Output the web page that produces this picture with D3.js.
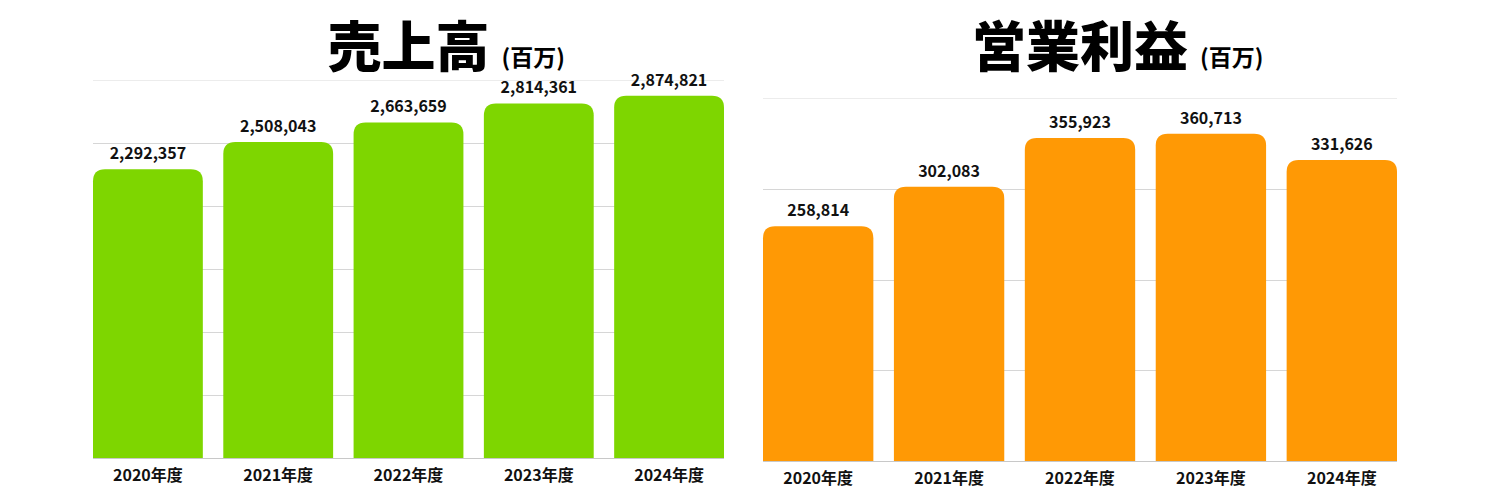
<!DOCTYPE html>
<html>
<head>
<meta charset="utf-8">
<script src="https://cdn.jsdelivr.net/npm/d3@7"></script>
<style>
  body { margin: 0; background: #fff; }
  svg text { font-family: "Noto Sans CJK JP", "Noto Sans", sans-serif; }
</style>
</head>
<body>
<div id="chart"></div>
<script>
// years on the x axis (shared by both charts)
const years = ["2020年度", "2021年度", "2022年度", "2023年度", "2024年度"];

// 売上高 (百万)
const salesValues = [2292357, 2508043, 2663659, 2814361, 2874821];
const salesTicks = [0, 500000, 1000000, 1500000, 2000000, 2500000, 3000000];

// 営業利益 (百万)
const profitValues = [258814, 302083, 355923, 360713, 331626];
const profitTicks = [0, 100000, 200000, 300000, 400000];

const svg = d3.select("#chart").append("svg")
  .attr("width", 1500)
  .attr("height", 500);

const fmt = d3.format(",");

// bar with rounded top corners only
function topRoundedBar(x, y, w, h, r) {
  r = Math.min(r, w / 2, h);
  return "M" + x + "," + (y + h) +
    "V" + (y + r) +
    "Q" + x + "," + y + " " + (x + r) + "," + y +
    "H" + (x + w - r) +
    "Q" + (x + w) + "," + y + " " + (x + w) + "," + (y + r) +
    "V" + (y + h) + "Z";
}

function drawChart(cfg) {
  const g = svg.append("g");

  const x = d3.scaleBand()
    .domain(cfg.categories)
    .range([cfg.left, cfg.right])
    .paddingInner(0.157)
    .paddingOuter(0);

  const y = d3.scaleLinear()
    .domain([0, d3.max(cfg.ticks)])
    .range([cfg.bottom, cfg.top]);

  // horizontal grid
  g.selectAll(".grid")
    .data(cfg.ticks.filter(d => d > 0))
    .enter().append("line")
    .attr("class", "grid")
    .attr("x1", cfg.left)
    .attr("x2", cfg.right)
    .attr("y1", d => Math.round(y(d)) + 0.5)
    .attr("y2", d => Math.round(y(d)) + 0.5)
    .style("stroke", (d, i, n) => i === n.length - 1 ? "#ececec" : "#d6d6d6")
    .style("stroke-width", 1);

  // bars
  g.selectAll(".bar")
    .data(cfg.values)
    .enter().append("path")
    .attr("class", "bar")
    .attr("d", (d, i) => topRoundedBar(x(cfg.categories[i]), y(d), x.bandwidth(), y(0) - y(d), 12))
    .style("fill", cfg.color);

  // baseline
  g.append("line")
    .attr("x1", cfg.left)
    .attr("x2", cfg.right)
    .attr("y1", Math.round(y(0)) + 0.5)
    .attr("y2", Math.round(y(0)) + 0.5)
    .style("stroke", "#c8c8c8")
    .style("stroke-width", 1);

  // value labels
  g.selectAll(".val")
    .data(cfg.values)
    .enter().append("text")
    .attr("class", "val")
    .attr("x", (d, i) => x(cfg.categories[i]) + x.bandwidth() / 2)
    .attr("y", d => y(d) - 10)
    .attr("text-anchor", "middle")
    .style("font-size", "16px")
    .style("font-weight", 700)
    .style("fill", "#111")
    .text(d => fmt(d));

  // x labels
  g.selectAll(".xlab")
    .data(cfg.categories)
    .enter().append("text")
    .attr("class", "xlab")
    .attr("x", d => x(d) + x.bandwidth() / 2)
    .attr("y", y(0) + 23)
    .attr("text-anchor", "middle")
    .style("font-size", "16px")
    .style("font-weight", 700)
    .style("fill", "#111")
    .text(d => d);

  // title: main text centred on the plot, unit appended to the right
  const cx = (cfg.left + cfg.right) / 2;
  const title = g.append("text")
    .attr("x", cx)
    .attr("y", 67)
    .attr("text-anchor", "middle")
    .style("font-size", "54px")
    .style("font-weight", 900)
    .style("fill", "#000")
    .text(cfg.title);
  const tw = title.node().getComputedTextLength();
  g.append("text")
    .attr("x", cx + tw / 2 + 12)
    .attr("y", 66)
    .style("font-size", "23px")
    .style("font-weight", 700)
    .style("fill", "#000")
    .text("(百万)");
}

drawChart({
  categories: years, values: salesValues, ticks: salesTicks,
  title: "売上高", color: "#7ed600",
  left: 93, right: 724, top: 80, bottom: 458
});

drawChart({
  categories: years, values: profitValues, ticks: profitTicks,
  title: "営業利益", color: "#ff9905",
  left: 763, right: 1397, top: 98, bottom: 461
});
</script>
</body>
</html>
